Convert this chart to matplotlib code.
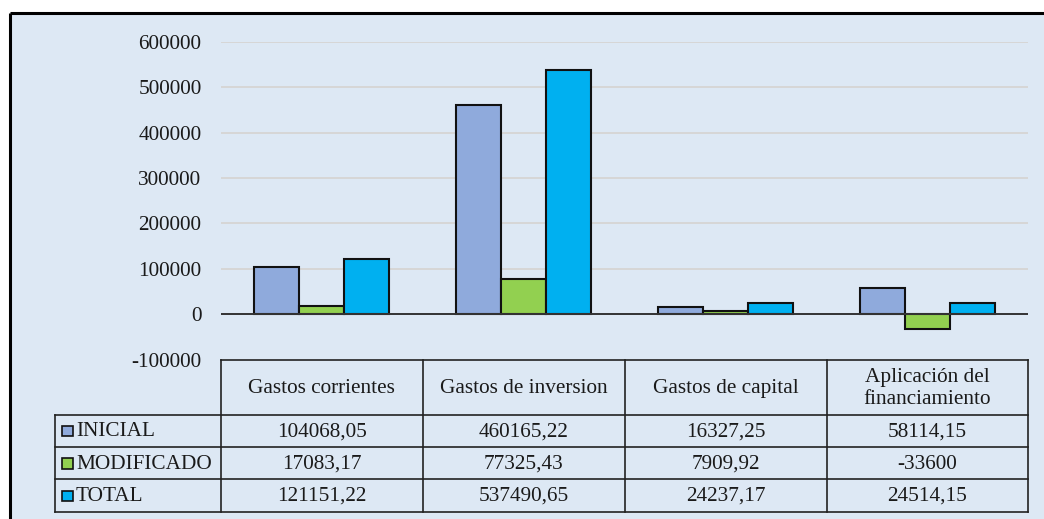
import numpy as np
import matplotlib
matplotlib.use("Agg")
import matplotlib.pyplot as plt
from matplotlib.patches import Rectangle

categories = ["Gastos corrientes", "Gastos de inversion", "Gastos de capital",
              "Aplicación del\nfinanciamiento"]
series_names = ["INICIAL", "MODIFICADO", "TOTAL"]
inicial = [104068.05, 460165.22, 16327.25, 58114.15]
modificado = [17083.17, 77325.43, 7909.92, -33600]
total = [121151.22, 537490.65, 24237.17, 24514.15]
yticks = [-100000, 0, 100000, 200000, 300000, 400000, 500000, 600000]

colors = ["#8FAADC", "#92D050", "#00B0F0"]
bg = "#DDE8F4"
W, H = 1044, 519

plt.rcParams['font.family'] = 'serif'
plt.rcParams['font.serif'] = ['Liberation Serif', 'DejaVu Serif']
fs = 15.3
tc = "#1a1a1a"


def fmt(v):
    if float(v).is_integer():
        return str(int(v))
    return f"{v:.2f}".replace('.', ',')


fig = plt.figure(figsize=(W / 100, H / 100), dpi=100)
fig.patch.set_facecolor("white")

# overlay in pixel coordinates for the frame and the data table
pix = fig.add_axes([0, 0, 1, 1])
pix.set_xlim(0, W)
pix.set_ylim(H, 0)
pix.axis("off")
pix.add_patch(Rectangle((9.5, 12.5), W, H, facecolor=bg, edgecolor="none", zorder=0))
pix.plot([9.5, W], [12.5, 12.5], color="black", lw=2.2, zorder=1, solid_capstyle="butt")
pix.plot([9.5, 9.5], [12.5, H], color="black", lw=2.2, zorder=1, solid_capstyle="butt")

# chart area
left, right = 221, 1028
top, bottom = 41.7, 359.6
ax = fig.add_axes([left / W, 1 - bottom / H, (right - left) / W, (bottom - top) / H])
ax.set_facecolor("none")
ax.set_xlim(-0.5, len(categories) - 0.5)
ax.set_ylim(-100000, 600000)
for s in ax.spines.values():
    s.set_visible(False)
ax.set_xticks([])
ax.set_yticks(yticks)
ax.set_yticklabels([str(t) for t in yticks], fontsize=fs, color=tc)
ax.tick_params(axis="y", length=0, pad=14)
for t in yticks[2:]:
    ax.axhline(t, color="#D6D6D6", lw=1.4, zorder=0)

x = np.arange(len(categories))
w = 0.223
for i, (vals, c) in enumerate(zip([inicial, modificado, total], colors)):
    ax.bar(x + (i - 1) * w, vals, w, color=c, edgecolor="#111111", linewidth=1.5, zorder=2)
ax.axhline(0, color="#333333", lw=1.4, zorder=3)

# data table
col_x = [221, 422.7, 625, 826.5, 1028]
lab_x0 = 54.7
row_y = [360, 414.7, 447, 479.3, 511.7]
lc = "#222222"
lw = 1.2
pix.plot([col_x[0], col_x[-1]], [row_y[0], row_y[0]], color=lc, lw=lw)
for yy in row_y[1:]:
    pix.plot([lab_x0, col_x[-1]], [yy, yy], color=lc, lw=lw)
for xx in col_x:
    pix.plot([xx, xx], [row_y[0], row_y[-1]], color=lc, lw=lw)
pix.plot([lab_x0, lab_x0], [row_y[1], row_y[-1]], color=lc, lw=lw)

for j, cat in enumerate(categories):
    cx = (col_x[j] + col_x[j + 1]) / 2
    pix.text(cx, (row_y[0] + row_y[1]) / 2 + 1, cat, ha="center", va="center",
             fontsize=fs, color=tc, linespacing=1.25)

for i, (name, vals, c) in enumerate(zip(series_names, [inicial, modificado, total], colors)):
    cy = (row_y[i + 1] + row_y[i + 2]) / 2
    pix.add_patch(Rectangle((62, cy - 5), 10.5, 10.5, facecolor=c, edgecolor="#111111", lw=1.2))
    pix.text(76, cy + 1, name, ha="left", va="center", fontsize=fs, color=tc)
    for j, v in enumerate(vals):
        cx = (col_x[j] + col_x[j + 1]) / 2
        pix.text(cx, cy + 1, fmt(v), ha="center", va="center", fontsize=fs, color=tc)

fig.savefig("out.png", dpi=100)
